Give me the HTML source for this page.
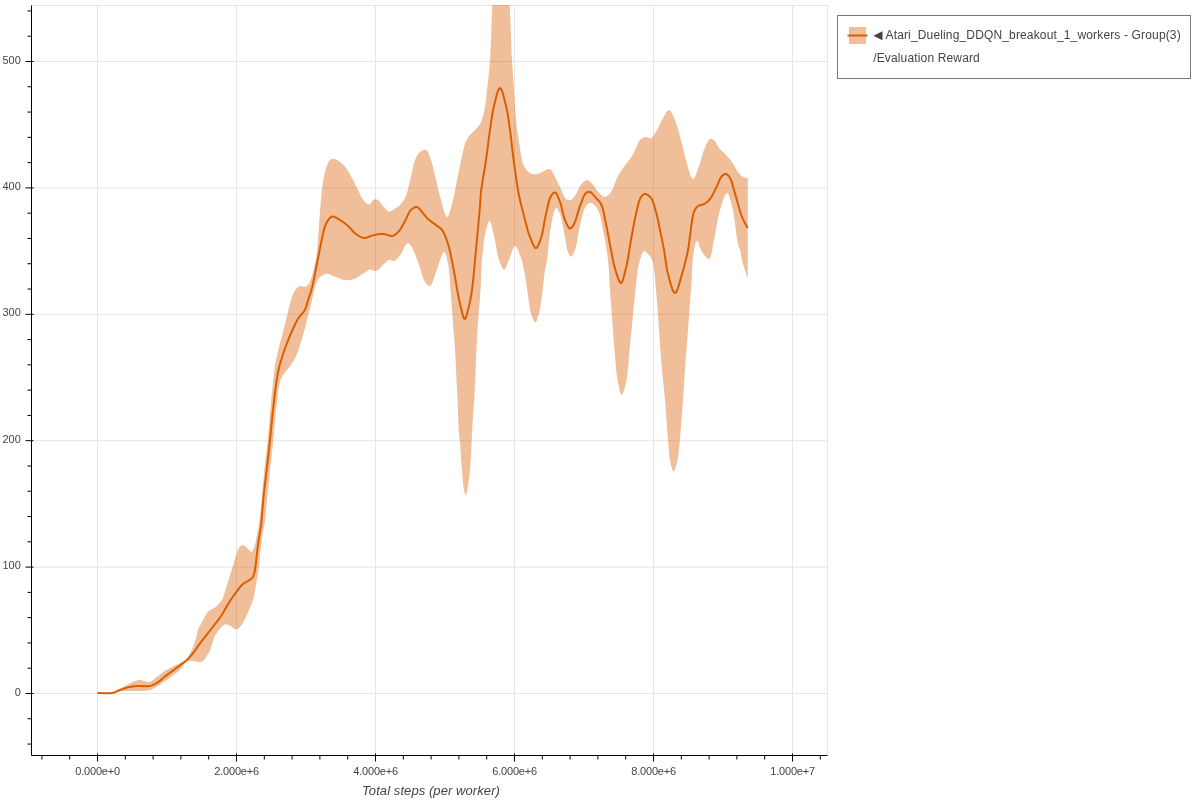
<!DOCTYPE html>
<html><head><meta charset="utf-8"><style>html,body{margin:0;padding:0;background:#fff;overflow:hidden}svg{display:block;will-change:transform}</style></head>
<body><svg width="1200" height="800" viewBox="0 0 1200 800">
<defs><clipPath id="c"><rect x="31.5" y="5" width="796.0" height="750.5"/></clipPath></defs>
<rect width="1200" height="800" fill="#fff"/>
<g stroke="#e5e5e5" stroke-width="1"><line x1="97.5" y1="5.5" x2="97.5" y2="755.5"/><line x1="236.5" y1="5.5" x2="236.5" y2="755.5"/><line x1="375.5" y1="5.5" x2="375.5" y2="755.5"/><line x1="514.5" y1="5.5" x2="514.5" y2="755.5"/><line x1="653.5" y1="5.5" x2="653.5" y2="755.5"/><line x1="792.5" y1="5.5" x2="792.5" y2="755.5"/><line x1="31.5" y1="693.5" x2="827.5" y2="693.5"/><line x1="31.5" y1="567.1" x2="827.5" y2="567.1"/><line x1="31.5" y1="440.7" x2="827.5" y2="440.7"/><line x1="31.5" y1="314.3" x2="827.5" y2="314.3"/><line x1="31.5" y1="187.89999999999998" x2="827.5" y2="187.89999999999998"/><line x1="31.5" y1="61.5" x2="827.5" y2="61.5"/></g><rect x="31.5" y="5.5" width="796.0" height="750.0" fill="none" stroke="#e5e5e5" stroke-width="1"/>
<g clip-path="url(#c)"><path d="M97.50,693.50 L99.32,693.41 L101.16,693.38 L103.00,693.37 L104.84,693.34 L106.67,693.28 L108.48,693.14 L110.26,692.89 L112.00,692.50 L113.71,691.94 L115.40,691.24 L117.06,690.43 L118.70,689.54 L120.32,688.62 L121.90,687.69 L123.47,686.81 L125.00,686.00 L126.33,685.31 L127.66,684.61 L128.98,683.89 L130.28,683.20 L131.53,682.54 L132.75,681.94 L133.91,681.42 L135.00,681.00 L135.69,680.77 L136.33,680.56 L136.94,680.38 L137.53,680.23 L138.12,680.12 L138.72,680.04 L139.34,680.00 L140.00,680.00 L140.89,680.10 L141.86,680.32 L142.88,680.63 L143.91,680.97 L144.91,681.32 L145.87,681.63 L146.74,681.87 L147.50,682.00 L147.87,682.03 L148.19,682.05 L148.49,682.06 L148.77,682.05 L149.05,682.01 L149.34,681.96 L149.65,681.87 L150.00,681.75 L150.77,681.40 L151.63,680.88 L152.55,680.25 L153.53,679.53 L154.54,678.77 L155.55,677.98 L156.54,677.21 L157.50,676.50 L158.44,675.81 L159.37,675.09 L160.30,674.36 L161.23,673.64 L162.17,672.92 L163.10,672.22 L164.05,671.54 L165.00,670.90 L165.92,670.32 L166.85,669.77 L167.79,669.24 L168.73,668.73 L169.67,668.23 L170.61,667.73 L171.56,667.24 L172.50,666.75 L173.44,666.27 L174.38,665.79 L175.33,665.32 L176.27,664.86 L177.22,664.40 L178.16,663.94 L179.08,663.47 L180.00,663.00 L180.89,662.55 L181.80,662.13 L182.72,661.71 L183.63,661.28 L184.50,660.83 L185.32,660.35 L186.08,659.83 L186.75,659.25 L187.26,658.69 L187.70,658.08 L188.09,657.45 L188.44,656.79 L188.77,656.11 L189.08,655.41 L189.41,654.71 L189.75,654.00 L190.14,653.21 L190.53,652.40 L190.91,651.58 L191.29,650.74 L191.66,649.88 L192.02,649.02 L192.39,648.14 L192.75,647.25 L193.14,646.27 L193.54,645.26 L193.93,644.25 L194.32,643.21 L194.70,642.17 L195.06,641.12 L195.42,640.06 L195.75,639.00 L196.06,637.90 L196.32,636.78 L196.57,635.65 L196.80,634.51 L197.04,633.37 L197.31,632.24 L197.63,631.11 L198.00,630.00 L198.46,628.85 L198.97,627.71 L199.52,626.57 L200.10,625.44 L200.70,624.31 L201.31,623.20 L201.91,622.09 L202.50,621.00 L203.05,619.94 L203.61,618.86 L204.18,617.77 L204.74,616.70 L205.31,615.66 L205.88,614.69 L206.44,613.79 L207.00,613.00 L207.37,612.53 L207.72,612.09 L208.07,611.70 L208.42,611.33 L208.78,610.98 L209.16,610.65 L209.56,610.32 L210.00,610.00 L210.55,609.65 L211.15,609.35 L211.78,609.07 L212.43,608.80 L213.09,608.53 L213.75,608.23 L214.39,607.89 L215.00,607.50 L215.67,606.98 L216.35,606.38 L217.03,605.73 L217.69,605.05 L218.33,604.36 L218.94,603.70 L219.50,603.07 L220.00,602.50 L220.30,602.17 L220.57,601.89 L220.82,601.63 L221.06,601.37 L221.29,601.10 L221.51,600.79 L221.75,600.43 L222.00,600.00 L222.59,598.74 L223.21,597.14 L223.85,595.28 L224.50,593.25 L225.14,591.12 L225.78,588.98 L226.40,586.92 L227.00,585.00 L227.53,583.32 L228.06,581.65 L228.57,579.99 L229.08,578.34 L229.57,576.71 L230.06,575.11 L230.53,573.54 L231.00,572.00 L231.40,570.68 L231.79,569.38 L232.17,568.11 L232.54,566.85 L232.91,565.61 L233.28,564.39 L233.64,563.19 L234.00,562.00 L234.32,560.95 L234.63,559.91 L234.93,558.88 L235.24,557.86 L235.54,556.87 L235.85,555.89 L236.17,554.93 L236.50,554.00 L236.79,553.19 L237.06,552.37 L237.34,551.56 L237.62,550.77 L237.92,550.01 L238.24,549.29 L238.60,548.62 L239.00,548.00 L239.37,547.50 L239.78,546.99 L240.21,546.50 L240.65,546.05 L241.11,545.65 L241.58,545.33 L242.04,545.11 L242.50,545.00 L242.93,545.02 L243.37,545.15 L243.82,545.37 L244.27,545.65 L244.72,545.98 L245.16,546.33 L245.59,546.67 L246.00,547.00 L246.40,547.34 L246.79,547.70 L247.17,548.10 L247.54,548.50 L247.91,548.90 L248.27,549.29 L248.63,549.66 L249.00,550.00 L249.32,550.29 L249.64,550.60 L249.96,550.92 L250.28,551.22 L250.59,551.48 L250.90,551.68 L251.21,551.79 L251.50,551.80 L251.85,551.65 L252.19,551.35 L252.52,550.94 L252.84,550.42 L253.15,549.85 L253.45,549.23 L253.73,548.61 L254.00,548.00 L254.33,547.16 L254.61,546.25 L254.87,545.28 L255.11,544.27 L255.33,543.21 L255.55,542.14 L255.77,541.07 L256.00,540.00 L256.26,538.81 L256.53,537.58 L256.79,536.34 L257.05,535.08 L257.30,533.80 L257.54,532.53 L257.78,531.26 L258.00,530.00 L258.21,528.79 L258.40,527.65 L258.59,526.52 L258.76,525.39 L258.94,524.20 L259.12,522.93 L259.30,521.54 L259.50,520.00 L259.91,516.54 L260.35,512.40 L260.83,507.79 L261.31,502.92 L261.78,497.99 L262.23,493.22 L262.64,488.82 L263.00,485.00 L263.19,482.86 L263.36,480.93 L263.50,479.14 L263.64,477.43 L263.78,475.73 L263.93,473.96 L264.10,472.08 L264.30,470.00 L264.64,466.74 L265.04,463.22 L265.48,459.50 L265.94,455.64 L266.40,451.70 L266.86,447.74 L267.30,443.82 L267.70,440.00 L268.06,436.25 L268.40,432.50 L268.72,428.75 L269.02,425.00 L269.33,421.25 L269.64,417.50 L269.96,413.75 L270.30,410.00 L270.65,406.21 L271.01,402.36 L271.38,398.48 L271.75,394.62 L272.13,390.80 L272.52,387.07 L272.91,383.46 L273.30,380.00 L273.61,377.33 L273.89,374.80 L274.16,372.37 L274.45,369.98 L274.76,367.60 L275.11,365.17 L275.52,362.65 L276.00,360.00 L276.74,356.46 L277.61,352.67 L278.59,348.72 L279.63,344.72 L280.68,340.75 L281.70,336.91 L282.66,333.30 L283.50,330.00 L284.03,327.88 L284.52,325.89 L284.98,324.00 L285.43,322.18 L285.86,320.40 L286.30,318.63 L286.74,316.84 L287.20,315.00 L287.66,313.10 L288.12,311.15 L288.58,309.20 L289.03,307.24 L289.50,305.33 L289.98,303.46 L290.48,301.68 L291.00,300.00 L291.42,298.73 L291.83,297.48 L292.25,296.27 L292.68,295.10 L293.13,293.98 L293.62,292.92 L294.13,291.93 L294.70,291.00 L295.18,290.29 L295.68,289.60 L296.20,288.94 L296.74,288.32 L297.30,287.75 L297.90,287.26 L298.53,286.83 L299.20,286.50 L299.97,286.31 L300.81,286.29 L301.72,286.38 L302.65,286.52 L303.57,286.66 L304.45,286.74 L305.27,286.71 L306.00,286.50 L306.59,286.16 L307.12,285.75 L307.61,285.26 L308.06,284.71 L308.49,284.09 L308.90,283.43 L309.30,282.73 L309.70,282.00 L310.28,280.82 L310.81,279.49 L311.31,278.04 L311.79,276.50 L312.24,274.89 L312.67,273.26 L313.09,271.62 L313.50,270.00 L313.94,268.23 L314.37,266.43 L314.77,264.61 L315.16,262.76 L315.53,260.87 L315.87,258.95 L316.20,257.00 L316.50,255.00 L316.81,252.65 L317.08,250.24 L317.31,247.78 L317.52,245.28 L317.72,242.74 L317.91,240.17 L318.10,237.59 L318.30,235.00 L318.52,232.20 L318.73,229.35 L318.94,226.47 L319.14,223.57 L319.35,220.66 L319.56,217.75 L319.77,214.86 L320.00,212.00 L320.22,209.22 L320.43,206.46 L320.64,203.71 L320.86,200.96 L321.09,198.22 L321.35,195.48 L321.65,192.74 L322.00,190.00 L322.39,187.17 L322.79,184.22 L323.23,181.24 L323.70,178.28 L324.20,175.41 L324.75,172.69 L325.35,170.20 L326.00,168.00 L326.43,166.73 L326.87,165.50 L327.32,164.32 L327.79,163.23 L328.28,162.23 L328.81,161.35 L329.38,160.60 L330.00,160.00 L330.45,159.68 L330.91,159.43 L331.40,159.23 L331.90,159.09 L332.41,159.00 L332.93,158.96 L333.46,158.96 L334.00,159.00 L334.71,159.13 L335.44,159.36 L336.20,159.68 L336.98,160.06 L337.75,160.50 L338.52,160.98 L339.27,161.49 L340.00,162.00 L340.79,162.60 L341.57,163.25 L342.34,163.94 L343.10,164.68 L343.84,165.46 L344.58,166.27 L345.29,167.12 L346.00,168.00 L346.81,169.09 L347.59,170.25 L348.35,171.47 L349.09,172.73 L349.83,174.03 L350.55,175.34 L351.28,176.67 L352.00,178.00 L352.77,179.44 L353.53,180.92 L354.27,182.43 L355.01,183.96 L355.75,185.49 L356.50,187.01 L357.24,188.52 L358.00,190.00 L358.73,191.45 L359.45,192.96 L360.17,194.48 L360.90,195.99 L361.64,197.43 L362.40,198.77 L363.18,199.97 L364.00,201.00 L364.59,201.64 L365.21,202.27 L365.84,202.86 L366.48,203.39 L367.12,203.84 L367.76,204.17 L368.39,204.36 L369.00,204.40 L369.64,204.18 L370.27,203.67 L370.89,202.97 L371.50,202.17 L372.12,201.34 L372.74,200.58 L373.36,199.97 L374.00,199.60 L374.49,199.46 L374.99,199.37 L375.49,199.35 L375.99,199.37 L376.49,199.45 L377.00,199.58 L377.50,199.77 L378.00,200.00 L378.75,200.52 L379.51,201.25 L380.26,202.14 L381.02,203.13 L381.77,204.17 L382.51,205.19 L383.26,206.16 L384.00,207.00 L384.62,207.69 L385.23,208.42 L385.82,209.16 L386.42,209.86 L387.03,210.49 L387.65,211.02 L388.31,211.40 L389.00,211.60 L389.81,211.58 L390.68,211.33 L391.60,210.91 L392.53,210.37 L393.46,209.75 L394.37,209.12 L395.22,208.52 L396.00,208.00 L396.57,207.64 L397.10,207.31 L397.61,206.97 L398.10,206.63 L398.57,206.28 L399.04,205.89 L399.52,205.47 L400.00,205.00 L400.65,204.32 L401.30,203.59 L401.95,202.80 L402.60,201.97 L403.23,201.07 L403.84,200.11 L404.44,199.09 L405.00,198.00 L405.75,196.28 L406.44,194.37 L407.08,192.31 L407.69,190.13 L408.27,187.88 L408.84,185.58 L409.41,183.27 L410.00,181.00 L410.63,178.41 L411.22,175.66 L411.78,172.83 L412.34,169.98 L412.92,167.19 L413.55,164.55 L414.23,162.13 L415.00,160.00 L415.54,158.73 L416.10,157.53 L416.66,156.39 L417.26,155.33 L417.88,154.35 L418.54,153.46 L419.24,152.68 L420.00,152.00 L420.68,151.50 L421.42,151.02 L422.21,150.59 L423.01,150.23 L423.82,149.97 L424.59,149.83 L425.33,149.83 L426.00,150.00 L426.80,150.53 L427.52,151.39 L428.17,152.52 L428.78,153.85 L429.36,155.32 L429.91,156.88 L430.45,158.46 L431.00,160.00 L431.72,162.15 L432.39,164.48 L433.03,166.96 L433.63,169.54 L434.22,172.17 L434.80,174.83 L435.39,177.45 L436.00,180.00 L436.61,182.51 L437.22,185.04 L437.81,187.58 L438.41,190.12 L439.02,192.64 L439.65,195.13 L440.30,197.59 L441.00,200.00 L441.69,202.44 L442.42,205.16 L443.17,207.98 L443.94,210.72 L444.72,213.18 L445.49,215.17 L446.26,216.51 L447.00,217.00 L447.64,216.66 L448.29,215.69 L448.94,214.23 L449.58,212.41 L450.21,210.34 L450.83,208.17 L451.43,206.01 L452.00,204.00 L452.71,201.37 L453.38,198.54 L454.01,195.56 L454.62,192.48 L455.21,189.34 L455.79,186.18 L456.39,183.05 L457.00,180.00 L457.63,176.94 L458.27,173.81 L458.91,170.63 L459.56,167.48 L460.19,164.39 L460.81,161.42 L461.42,158.60 L462.00,156.00 L462.38,154.28 L462.74,152.64 L463.08,151.07 L463.41,149.56 L463.76,148.11 L464.13,146.70 L464.54,145.34 L465.00,144.00 L465.42,142.89 L465.87,141.80 L466.33,140.74 L466.81,139.72 L467.32,138.73 L467.85,137.78 L468.41,136.87 L469.00,136.00 L469.56,135.29 L470.15,134.63 L470.77,134.03 L471.40,133.44 L472.05,132.86 L472.70,132.28 L473.35,131.66 L474.00,131.00 L474.75,130.21 L475.53,129.42 L476.33,128.61 L477.13,127.77 L477.91,126.90 L478.66,125.99 L479.36,125.03 L480.00,124.00 L480.67,122.72 L481.26,121.38 L481.80,119.97 L482.30,118.50 L482.75,116.97 L483.18,115.37 L483.59,113.72 L484.00,112.00 L484.50,109.61 L484.94,107.07 L485.33,104.41 L485.69,101.65 L486.02,98.81 L486.34,95.91 L486.66,92.96 L487.00,90.00 L487.41,86.54 L487.81,83.04 L488.21,79.49 L488.60,75.86 L488.97,72.12 L489.34,68.25 L489.68,64.22 L490.00,60.00 L490.38,53.88 L490.69,47.29 L490.97,40.35 L491.22,33.19 L491.46,25.95 L491.73,18.75 L492.03,11.72 L492.40,5.00 L492.74,-1.01 L493.06,-7.15 L493.38,-13.29 L493.73,-19.33 L494.14,-25.13 L494.64,-30.59 L495.25,-35.59 L496.00,-40.00 L496.52,-42.49 L497.10,-45.06 L497.72,-47.58 L498.37,-49.92 L499.03,-51.95 L499.70,-53.56 L500.36,-54.62 L501.00,-55.00 L501.64,-54.62 L502.30,-53.56 L502.97,-51.95 L503.63,-49.92 L504.28,-47.58 L504.90,-45.06 L505.48,-42.49 L506.00,-40.00 L506.75,-35.59 L507.36,-30.59 L507.86,-25.13 L508.27,-19.33 L508.62,-13.29 L508.94,-7.15 L509.26,-1.01 L509.60,5.00 L509.98,11.72 L510.31,18.75 L510.61,25.95 L510.88,33.19 L511.15,40.34 L511.41,47.28 L511.69,53.88 L512.00,60.00 L512.24,64.18 L512.49,68.14 L512.74,71.91 L512.99,75.57 L513.24,79.15 L513.50,82.71 L513.75,86.31 L514.00,90.00 L514.24,93.78 L514.46,97.61 L514.68,101.46 L514.90,105.30 L515.13,109.10 L515.39,112.83 L515.67,116.48 L516.00,120.00 L516.32,122.93 L516.66,125.80 L517.02,128.60 L517.41,131.36 L517.80,134.07 L518.20,136.74 L518.60,139.38 L519.00,142.00 L519.36,144.41 L519.72,146.86 L520.08,149.32 L520.45,151.73 L520.83,154.05 L521.21,156.23 L521.60,158.23 L522.00,160.00 L522.22,160.91 L522.42,161.74 L522.62,162.51 L522.82,163.22 L523.05,163.91 L523.31,164.59 L523.62,165.28 L524.00,166.00 L524.55,166.93 L525.17,167.92 L525.87,168.92 L526.62,169.91 L527.42,170.84 L528.26,171.70 L529.12,172.43 L530.00,173.00 L530.79,173.38 L531.61,173.68 L532.47,173.91 L533.34,174.06 L534.24,174.14 L535.15,174.15 L536.07,174.10 L537.00,174.00 L538.22,173.71 L539.53,173.21 L540.89,172.57 L542.26,171.86 L543.60,171.13 L544.86,170.45 L546.01,169.88 L547.00,169.50 L547.45,169.35 L547.87,169.20 L548.25,169.07 L548.62,168.95 L548.97,168.88 L549.31,168.85 L549.65,168.89 L550.00,169.00 L550.53,169.34 L551.04,169.87 L551.54,170.54 L552.03,171.34 L552.51,172.22 L552.99,173.14 L553.49,174.08 L554.00,175.00 L554.72,176.29 L555.46,177.69 L556.20,179.18 L556.96,180.72 L557.72,182.31 L558.49,183.90 L559.25,185.47 L560.00,187.00 L560.73,188.59 L561.44,190.30 L562.14,192.06 L562.84,193.80 L563.56,195.44 L564.32,196.90 L565.13,198.11 L566.00,199.00 L566.58,199.39 L567.20,199.72 L567.84,199.96 L568.49,200.13 L569.14,200.22 L569.79,200.23 L570.41,200.16 L571.00,200.00 L571.70,199.64 L572.37,199.10 L573.02,198.40 L573.66,197.59 L574.27,196.71 L574.87,195.79 L575.44,194.87 L576.00,194.00 L576.55,193.06 L577.03,192.07 L577.48,191.03 L577.91,189.97 L578.35,188.92 L578.83,187.89 L579.37,186.91 L580.00,186.00 L580.74,185.07 L581.55,184.07 L582.43,183.07 L583.35,182.12 L584.28,181.28 L585.22,180.61 L586.13,180.17 L587.00,180.00 L587.77,180.13 L588.53,180.49 L589.29,181.04 L590.04,181.73 L590.78,182.52 L591.52,183.36 L592.26,184.20 L593.00,185.00 L593.89,186.01 L594.77,187.15 L595.65,188.38 L596.52,189.65 L597.39,190.89 L598.26,192.07 L599.13,193.12 L600.00,194.00 L600.62,194.56 L601.25,195.11 L601.87,195.63 L602.49,196.10 L603.11,196.50 L603.74,196.79 L604.37,196.97 L605.00,197.00 L605.75,196.84 L606.51,196.50 L607.28,195.99 L608.05,195.35 L608.82,194.61 L609.57,193.78 L610.30,192.91 L611.00,192.00 L611.98,190.47 L612.87,188.65 L613.72,186.62 L614.53,184.46 L615.34,182.23 L616.17,180.03 L617.05,177.93 L618.00,176.00 L618.93,174.37 L619.91,172.77 L620.92,171.21 L621.96,169.69 L622.99,168.20 L624.02,166.76 L625.03,165.36 L626.00,164.00 L626.79,162.92 L627.58,161.88 L628.37,160.89 L629.15,159.92 L629.91,158.95 L630.64,157.99 L631.34,157.01 L632.00,156.00 L632.58,155.02 L633.11,154.03 L633.62,153.03 L634.10,152.03 L634.57,151.02 L635.04,150.01 L635.51,149.00 L636.00,148.00 L636.48,146.97 L636.94,145.89 L637.39,144.79 L637.85,143.70 L638.32,142.65 L638.83,141.67 L639.38,140.77 L640.00,140.00 L640.54,139.45 L641.12,138.94 L641.72,138.48 L642.35,138.06 L642.99,137.70 L643.65,137.40 L644.32,137.17 L645.00,137.00 L645.71,136.97 L646.46,137.11 L647.23,137.35 L648.02,137.64 L648.80,137.91 L649.56,138.10 L650.30,138.15 L651.00,138.00 L651.85,137.51 L652.65,136.78 L653.42,135.86 L654.17,134.79 L654.89,133.62 L655.60,132.40 L656.30,131.18 L657.00,130.00 L657.79,128.62 L658.55,127.14 L659.28,125.59 L660.00,124.00 L660.72,122.41 L661.45,120.86 L662.21,119.38 L663.00,118.00 L663.72,116.78 L664.46,115.46 L665.21,114.11 L665.98,112.83 L666.75,111.69 L667.51,110.78 L668.27,110.19 L669.00,110.00 L669.78,110.29 L670.57,111.04 L671.34,112.15 L672.11,113.53 L672.87,115.09 L673.60,116.75 L674.32,118.42 L675.00,120.00 L675.86,122.12 L676.67,124.42 L677.44,126.86 L678.17,129.40 L678.89,132.02 L679.59,134.68 L680.29,137.35 L681.00,140.00 L681.77,142.93 L682.50,145.98 L683.22,149.09 L683.94,152.23 L684.66,155.34 L685.40,158.37 L686.18,161.27 L687.00,164.00 L687.70,166.27 L688.42,168.72 L689.16,171.22 L689.91,173.60 L690.68,175.72 L691.45,177.43 L692.22,178.57 L693.00,179.00 L693.74,178.65 L694.51,177.64 L695.28,176.13 L696.06,174.25 L696.83,172.16 L697.59,169.99 L698.31,167.89 L699.00,166.00 L699.68,164.07 L700.31,162.06 L700.90,159.99 L701.47,157.91 L702.04,155.83 L702.64,153.80 L703.29,151.85 L704.00,150.00 L704.67,148.39 L705.36,146.69 L706.08,144.97 L706.83,143.32 L707.59,141.82 L708.38,140.55 L709.18,139.58 L710.00,139.00 L710.48,138.85 L710.98,138.80 L711.49,138.83 L712.01,138.95 L712.52,139.14 L713.03,139.39 L713.52,139.68 L714.00,140.00 L714.67,140.63 L715.30,141.48 L715.89,142.48 L716.47,143.58 L717.05,144.74 L717.65,145.90 L718.30,147.00 L719.00,148.00 L719.79,148.93 L720.64,149.83 L721.52,150.70 L722.43,151.56 L723.35,152.41 L724.26,153.26 L725.15,154.12 L726.00,155.00 L726.79,155.85 L727.57,156.69 L728.33,157.53 L729.09,158.37 L729.83,159.23 L730.56,160.12 L731.29,161.04 L732.00,162.00 L732.78,163.17 L733.54,164.44 L734.29,165.76 L735.02,167.11 L735.75,168.45 L736.49,169.73 L737.23,170.93 L738.00,172.00 L738.61,172.77 L739.21,173.52 L739.82,174.24 L740.43,174.91 L741.05,175.54 L741.68,176.10 L742.33,176.59 L743.00,177.00 L743.57,177.26 L744.16,177.45 L744.76,177.59 L745.36,177.68 L745.97,177.75 L746.59,177.82 L747.20,177.89 L747.80,178.00 L747.80,278.70 L747.53,277.86 L747.26,277.03 L746.99,276.20 L746.72,275.37 L746.45,274.53 L746.18,273.68 L745.89,272.80 L745.60,271.90 L745.23,270.81 L744.84,269.69 L744.44,268.55 L744.03,267.39 L743.63,266.20 L743.23,264.99 L742.85,263.76 L742.50,262.50 L742.14,261.00 L741.81,259.40 L741.50,257.75 L741.21,256.08 L740.92,254.43 L740.63,252.84 L740.32,251.35 L740.00,250.00 L739.76,249.18 L739.52,248.46 L739.28,247.82 L739.03,247.19 L738.78,246.55 L738.52,245.83 L738.26,244.99 L738.00,244.00 L737.34,240.69 L736.67,236.34 L735.99,231.27 L735.28,225.78 L734.53,220.20 L733.74,214.83 L732.90,210.00 L732.00,206.00 L731.43,203.84 L730.85,201.62 L730.25,199.45 L729.63,197.42 L729.00,195.65 L728.35,194.26 L727.68,193.34 L727.00,193.00 L726.18,193.45 L725.30,194.72 L724.38,196.63 L723.46,199.02 L722.53,201.72 L721.64,204.57 L720.79,207.38 L720.00,210.00 L719.09,213.36 L718.27,217.02 L717.51,220.89 L716.80,224.87 L716.12,228.86 L715.44,232.78 L714.74,236.52 L714.00,240.00 L713.42,242.82 L712.90,245.86 L712.39,248.94 L711.87,251.89 L711.30,254.54 L710.65,256.73 L709.90,258.27 L709.00,259.00 L708.25,258.96 L707.40,258.51 L706.48,257.74 L705.53,256.74 L704.58,255.58 L703.65,254.35 L702.78,253.13 L702.00,252.00 L701.23,250.64 L700.51,248.97 L699.84,247.14 L699.21,245.31 L698.62,243.63 L698.06,242.25 L697.52,241.32 L697.00,241.00 L696.55,241.24 L696.13,241.85 L695.73,242.78 L695.35,243.97 L694.99,245.35 L694.65,246.86 L694.32,248.43 L694.00,250.00 L693.42,253.62 L692.95,257.97 L692.56,262.88 L692.23,268.19 L691.94,273.73 L691.65,279.32 L691.35,284.80 L691.00,290.00 L690.62,295.00 L690.25,300.00 L689.87,305.00 L689.50,310.00 L689.12,315.00 L688.75,320.00 L688.38,325.00 L688.00,330.00 L687.62,335.04 L687.23,340.13 L686.84,345.25 L686.45,350.36 L686.07,355.42 L685.70,360.40 L685.34,365.27 L685.00,370.00 L684.72,374.00 L684.46,377.94 L684.20,381.83 L683.95,385.65 L683.71,389.38 L683.47,393.03 L683.24,396.57 L683.00,400.00 L682.81,402.69 L682.62,405.28 L682.44,407.80 L682.25,410.25 L682.07,412.68 L681.89,415.10 L681.70,417.53 L681.50,420.00 L681.30,422.50 L681.10,425.00 L680.90,427.50 L680.70,430.00 L680.49,432.50 L680.27,435.00 L680.04,437.50 L679.80,440.00 L679.56,442.54 L679.34,445.14 L679.12,447.76 L678.89,450.37 L678.62,452.93 L678.31,455.41 L677.94,457.78 L677.50,460.00 L677.09,461.77 L676.62,463.67 L676.12,465.59 L675.59,467.42 L675.05,469.04 L674.51,470.34 L673.99,471.19 L673.50,471.50 L673.03,471.18 L672.55,470.31 L672.08,469.01 L671.61,467.39 L671.17,465.57 L670.74,463.65 L670.35,461.76 L670.00,460.00 L669.61,457.78 L669.29,455.41 L669.02,452.92 L668.79,450.36 L668.59,447.76 L668.40,445.14 L668.21,442.54 L668.00,440.00 L667.79,437.50 L667.59,435.00 L667.40,432.50 L667.22,430.00 L667.04,427.50 L666.86,425.00 L666.68,422.50 L666.50,420.00 L666.32,417.53 L666.14,415.09 L665.97,412.68 L665.80,410.25 L665.62,407.79 L665.43,405.28 L665.23,402.69 L665.00,400.00 L664.68,396.57 L664.33,393.03 L663.95,389.38 L663.56,385.65 L663.15,381.83 L662.75,377.95 L662.37,374.00 L662.00,370.00 L661.60,365.28 L661.22,360.41 L660.84,355.42 L660.47,350.36 L660.10,345.25 L659.74,340.14 L659.37,335.04 L659.00,330.00 L658.64,324.96 L658.29,319.86 L657.95,314.74 L657.61,309.63 L657.25,304.57 L656.87,299.59 L656.46,294.72 L656.00,290.00 L655.60,285.88 L655.22,281.63 L654.84,277.38 L654.43,273.24 L653.97,269.31 L653.43,265.72 L652.78,262.58 L652.00,260.00 L651.57,258.96 L651.12,258.04 L650.64,257.22 L650.14,256.48 L649.62,255.81 L649.09,255.18 L648.55,254.59 L648.00,254.00 L647.52,253.48 L647.03,252.93 L646.51,252.39 L645.99,251.88 L645.47,251.45 L644.96,251.14 L644.47,250.98 L644.00,251.00 L643.26,251.51 L642.55,252.55 L641.88,254.01 L641.24,255.78 L640.63,257.77 L640.06,259.87 L639.51,261.98 L639.00,264.00 L638.37,266.79 L637.84,269.79 L637.37,272.97 L636.96,276.29 L636.59,279.69 L636.24,283.14 L635.88,286.59 L635.50,290.00 L635.09,293.64 L634.70,297.35 L634.32,301.09 L633.95,304.86 L633.59,308.65 L633.23,312.45 L632.87,316.23 L632.50,320.00 L632.12,323.75 L631.75,327.50 L631.38,331.25 L631.00,335.00 L630.62,338.75 L630.25,342.50 L629.87,346.25 L629.50,350.00 L629.15,353.82 L628.85,357.75 L628.56,361.72 L628.26,365.67 L627.93,369.54 L627.55,373.25 L627.08,376.76 L626.50,380.00 L626.00,382.35 L625.44,384.85 L624.84,387.36 L624.20,389.74 L623.55,391.83 L622.91,393.50 L622.29,394.61 L621.70,395.00 L621.14,394.59 L620.57,393.48 L620.01,391.80 L619.46,389.71 L618.92,387.34 L618.42,384.84 L617.94,382.34 L617.50,380.00 L616.96,376.76 L616.50,373.25 L616.10,369.53 L615.75,365.67 L615.43,361.72 L615.12,357.75 L614.82,353.82 L614.50,350.00 L614.18,346.25 L613.87,342.50 L613.58,338.75 L613.30,335.00 L613.02,331.25 L612.75,327.50 L612.48,323.75 L612.20,320.00 L611.92,316.25 L611.64,312.50 L611.36,308.75 L611.08,305.00 L610.81,301.25 L610.53,297.50 L610.26,293.75 L610.00,290.00 L609.76,286.25 L609.56,282.50 L609.37,278.74 L609.17,274.99 L608.96,271.24 L608.70,267.49 L608.39,263.74 L608.00,260.00 L607.53,256.20 L606.99,252.34 L606.40,248.46 L605.76,244.60 L605.09,240.78 L604.40,237.06 L603.70,233.45 L603.00,230.00 L602.45,227.22 L601.95,224.43 L601.45,221.68 L600.93,219.00 L600.35,216.46 L599.69,214.08 L598.92,211.91 L598.00,210.00 L597.26,208.77 L596.44,207.57 L595.56,206.42 L594.65,205.38 L593.71,204.47 L592.78,203.75 L591.87,203.25 L591.00,203.00 L590.35,202.99 L589.70,203.12 L589.05,203.37 L588.40,203.73 L587.77,204.18 L587.16,204.72 L586.56,205.33 L586.00,206.00 L585.04,207.52 L584.17,209.45 L583.38,211.72 L582.64,214.23 L581.96,216.89 L581.30,219.64 L580.65,222.37 L580.00,225.00 L579.30,228.06 L578.69,231.39 L578.12,234.85 L577.57,238.33 L577.01,241.70 L576.42,244.86 L575.75,247.66 L575.00,250.00 L574.54,251.14 L574.05,252.28 L573.54,253.37 L573.03,254.37 L572.50,255.23 L571.99,255.90 L571.48,256.34 L571.00,256.50 L570.60,256.40 L570.21,256.11 L569.82,255.65 L569.44,255.07 L569.06,254.38 L568.70,253.62 L568.34,252.81 L568.00,252.00 L567.39,250.20 L566.84,248.02 L566.33,245.54 L565.86,242.86 L565.41,240.07 L564.96,237.27 L564.49,234.55 L564.00,232.00 L563.53,229.63 L563.08,227.19 L562.64,224.72 L562.20,222.29 L561.72,219.95 L561.21,217.75 L560.64,215.75 L560.00,214.00 L559.55,212.97 L559.07,211.91 L558.55,210.88 L558.03,209.92 L557.50,209.11 L556.98,208.48 L556.48,208.09 L556.00,208.00 L555.28,208.57 L554.59,209.94 L553.93,211.94 L553.29,214.43 L552.69,217.24 L552.10,220.21 L551.54,223.18 L551.00,226.00 L550.28,230.29 L549.63,235.26 L549.04,240.64 L548.49,246.16 L547.97,251.53 L547.47,256.48 L546.99,260.73 L546.50,264.00 L546.30,264.98 L546.11,265.78 L545.92,266.47 L545.73,267.09 L545.55,267.70 L545.36,268.35 L545.18,269.10 L545.00,270.00 L544.67,272.08 L544.35,274.53 L544.04,277.24 L543.74,280.14 L543.43,283.15 L543.11,286.19 L542.77,289.17 L542.40,292.00 L542.02,294.79 L541.64,297.67 L541.25,300.59 L540.85,303.49 L540.41,306.31 L539.95,308.98 L539.45,311.47 L538.90,313.70 L538.51,315.12 L538.11,316.61 L537.69,318.07 L537.26,319.45 L536.81,320.65 L536.35,321.62 L535.88,322.26 L535.40,322.50 L534.88,322.29 L534.32,321.67 L533.74,320.72 L533.15,319.51 L532.57,318.12 L532.00,316.64 L531.48,315.14 L531.00,313.70 L530.39,311.48 L529.87,309.00 L529.42,306.32 L529.02,303.50 L528.65,300.60 L528.29,297.68 L527.91,294.79 L527.50,292.00 L527.07,289.21 L526.64,286.35 L526.21,283.46 L525.79,280.59 L525.36,277.76 L524.92,275.03 L524.47,272.43 L524.00,270.00 L523.66,268.32 L523.34,266.73 L523.02,265.20 L522.69,263.74 L522.34,262.30 L521.95,260.88 L521.51,259.45 L521.00,258.00 L520.39,256.31 L519.70,254.39 L518.95,252.39 L518.16,250.45 L517.35,248.69 L516.54,247.28 L515.75,246.33 L515.00,246.00 L514.23,246.45 L513.47,247.62 L512.72,249.35 L511.97,251.45 L511.23,253.74 L510.49,256.05 L509.74,258.20 L509.00,260.00 L508.37,261.43 L507.75,262.99 L507.12,264.59 L506.50,266.13 L505.87,267.49 L505.25,268.60 L504.62,269.33 L504.00,269.60 L503.37,269.35 L502.72,268.67 L502.07,267.63 L501.42,266.32 L500.78,264.81 L500.16,263.21 L499.56,261.57 L499.00,260.00 L498.23,257.51 L497.55,254.67 L496.93,251.59 L496.35,248.35 L495.78,245.08 L495.22,241.86 L494.63,238.80 L494.00,236.00 L493.47,233.75 L492.93,231.30 L492.38,228.80 L491.83,226.42 L491.28,224.30 L490.72,222.58 L490.16,221.43 L489.60,221.00 L489.15,221.21 L488.69,221.83 L488.22,222.78 L487.75,223.99 L487.28,225.40 L486.83,226.91 L486.40,228.47 L486.00,230.00 L485.34,232.89 L484.73,236.23 L484.17,239.93 L483.66,243.87 L483.18,247.95 L482.75,252.07 L482.36,256.12 L482.00,260.00 L481.70,263.72 L481.47,267.39 L481.30,271.05 L481.16,274.73 L481.03,278.43 L480.89,282.20 L480.72,286.04 L480.50,290.00 L480.18,294.77 L479.81,299.73 L479.41,304.83 L479.00,310.00 L478.59,315.17 L478.19,320.27 L477.82,325.23 L477.50,330.00 L477.26,333.94 L477.05,337.75 L476.86,341.46 L476.68,345.12 L476.51,348.77 L476.34,352.44 L476.18,356.17 L476.00,360.00 L475.81,364.35 L475.62,368.90 L475.43,373.57 L475.24,378.25 L475.06,382.83 L474.87,387.21 L474.69,391.31 L474.50,395.00 L474.38,397.16 L474.25,399.14 L474.13,400.99 L474.01,402.76 L473.88,404.49 L473.76,406.25 L473.63,408.06 L473.50,410.00 L473.34,412.33 L473.18,414.70 L473.02,417.11 L472.86,419.57 L472.69,422.08 L472.52,424.65 L472.36,427.29 L472.20,430.00 L472.02,433.49 L471.84,437.18 L471.68,441.00 L471.51,444.89 L471.34,448.80 L471.15,452.66 L470.94,456.42 L470.70,460.00 L470.48,463.02 L470.25,466.01 L470.01,468.97 L469.75,471.87 L469.48,474.70 L469.18,477.42 L468.86,480.03 L468.50,482.50 L468.21,484.41 L467.89,486.47 L467.56,488.55 L467.21,490.53 L466.86,492.28 L466.50,493.70 L466.15,494.64 L465.80,495.00 L465.57,494.89 L465.34,494.56 L465.11,494.04 L464.87,493.38 L464.64,492.61 L464.42,491.76 L464.20,490.88 L464.00,490.00 L463.62,487.97 L463.27,485.53 L462.96,482.77 L462.68,479.78 L462.42,476.66 L462.17,473.51 L461.94,470.43 L461.70,467.50 L461.48,464.66 L461.28,461.77 L461.10,458.86 L460.92,455.97 L460.75,453.10 L460.58,450.30 L460.40,447.59 L460.20,445.00 L460.02,442.99 L459.82,441.09 L459.62,439.25 L459.41,437.45 L459.21,435.65 L459.02,433.83 L458.85,431.96 L458.70,430.00 L458.56,427.67 L458.46,425.30 L458.38,422.89 L458.31,420.43 L458.25,417.92 L458.18,415.35 L458.10,412.71 L458.00,410.00 L457.85,406.54 L457.67,402.93 L457.49,399.19 L457.29,395.38 L457.09,391.52 L456.89,387.64 L456.69,383.79 L456.50,380.00 L456.32,376.25 L456.14,372.50 L455.97,368.75 L455.80,365.00 L455.62,361.25 L455.43,357.50 L455.23,353.75 L455.00,350.00 L454.75,346.25 L454.48,342.50 L454.19,338.75 L453.89,335.00 L453.59,331.25 L453.29,327.50 L452.99,323.75 L452.70,320.00 L452.42,316.24 L452.15,312.45 L451.89,308.65 L451.63,304.86 L451.36,301.09 L451.08,297.35 L450.80,293.65 L450.50,290.00 L450.23,286.59 L450.00,283.13 L449.76,279.66 L449.52,276.24 L449.24,272.91 L448.90,269.73 L448.50,266.74 L448.00,264.00 L447.60,262.10 L447.17,260.09 L446.72,258.09 L446.23,256.21 L445.72,254.54 L445.17,253.22 L444.60,252.33 L444.00,252.00 L443.14,252.59 L442.20,254.25 L441.19,256.70 L440.14,259.70 L439.07,262.99 L438.01,266.31 L436.98,269.40 L436.00,272.00 L435.23,274.04 L434.50,276.25 L433.79,278.51 L433.09,280.69 L432.37,282.66 L431.63,284.28 L430.84,285.44 L430.00,286.00 L429.41,286.02 L428.78,285.82 L428.13,285.43 L427.47,284.90 L426.81,284.25 L426.17,283.53 L425.57,282.77 L425.00,282.00 L424.23,280.71 L423.54,279.19 L422.92,277.49 L422.34,275.65 L421.78,273.73 L421.22,271.79 L420.63,269.86 L420.00,268.00 L419.29,266.01 L418.59,263.95 L417.87,261.85 L417.15,259.74 L416.40,257.66 L415.64,255.66 L414.84,253.76 L414.00,252.00 L413.31,250.59 L412.59,249.09 L411.86,247.59 L411.12,246.16 L410.35,244.90 L409.58,243.90 L408.79,243.24 L408.00,243.00 L407.05,243.41 L406.08,244.51 L405.08,246.12 L404.07,248.06 L403.05,250.15 L402.03,252.20 L401.01,254.05 L400.00,255.50 L399.26,256.39 L398.51,257.28 L397.77,258.13 L397.03,258.92 L396.28,259.63 L395.53,260.23 L394.77,260.70 L394.00,261.00 L393.39,261.07 L392.77,260.97 L392.15,260.77 L391.52,260.50 L390.90,260.24 L390.27,260.03 L389.63,259.93 L389.00,260.00 L388.14,260.35 L387.26,260.92 L386.38,261.66 L385.49,262.51 L384.60,263.42 L383.72,264.34 L382.85,265.22 L382.00,266.00 L381.24,266.70 L380.49,267.45 L379.75,268.22 L379.02,268.97 L378.29,269.66 L377.55,270.25 L376.79,270.71 L376.00,271.00 L375.28,271.06 L374.54,270.93 L373.78,270.68 L373.02,270.36 L372.25,270.04 L371.49,269.76 L370.74,269.60 L370.00,269.60 L369.24,269.78 L368.51,270.07 L367.79,270.46 L367.07,270.92 L366.34,271.43 L365.59,271.96 L364.82,272.49 L364.00,273.00 L362.87,273.70 L361.69,274.49 L360.47,275.34 L359.21,276.21 L357.92,277.05 L356.61,277.82 L355.31,278.48 L354.00,279.00 L352.77,279.37 L351.52,279.66 L350.24,279.89 L348.96,280.05 L347.68,280.14 L346.42,280.16 L345.19,280.12 L344.00,280.00 L342.92,279.79 L341.83,279.48 L340.75,279.08 L339.69,278.63 L338.67,278.17 L337.70,277.72 L336.81,277.32 L336.00,277.00 L335.56,276.85 L335.17,276.72 L334.82,276.60 L334.47,276.49 L334.14,276.38 L333.79,276.27 L333.41,276.14 L333.00,276.00 L332.35,275.73 L331.65,275.37 L330.92,274.98 L330.16,274.59 L329.38,274.22 L328.58,273.93 L327.79,273.74 L327.00,273.70 L326.07,273.82 L325.09,274.08 L324.07,274.46 L323.06,274.94 L322.07,275.50 L321.13,276.13 L320.27,276.80 L319.50,277.50 L318.84,278.24 L318.27,279.04 L317.76,279.91 L317.31,280.83 L316.90,281.80 L316.50,282.83 L316.11,283.89 L315.70,285.00 L315.16,286.61 L314.66,288.36 L314.19,290.22 L313.75,292.15 L313.32,294.13 L312.89,296.12 L312.46,298.09 L312.00,300.00 L311.53,301.88 L311.05,303.75 L310.58,305.63 L310.10,307.50 L309.62,309.37 L309.15,311.25 L308.67,313.12 L308.20,315.00 L307.74,316.88 L307.29,318.75 L306.84,320.63 L306.39,322.51 L305.94,324.38 L305.48,326.26 L305.00,328.13 L304.50,330.00 L303.96,331.93 L303.37,333.95 L302.76,335.99 L302.15,338.01 L301.55,339.97 L300.97,341.82 L300.45,343.51 L300.00,345.00 L299.78,345.74 L299.59,346.41 L299.43,347.01 L299.27,347.58 L299.11,348.15 L298.93,348.72 L298.73,349.33 L298.50,350.00 L298.13,351.02 L297.71,352.12 L297.25,353.28 L296.76,354.47 L296.26,355.67 L295.74,356.84 L295.22,357.96 L294.70,359.00 L294.27,359.82 L293.84,360.60 L293.40,361.34 L292.96,362.07 L292.50,362.79 L292.03,363.51 L291.53,364.24 L291.00,365.00 L290.33,365.91 L289.60,366.83 L288.82,367.76 L288.03,368.69 L287.23,369.64 L286.45,370.59 L285.70,371.54 L285.00,372.50 L284.37,373.38 L283.76,374.21 L283.16,375.02 L282.58,375.85 L282.03,376.73 L281.49,377.69 L280.98,378.77 L280.50,380.00 L279.68,382.75 L278.98,386.03 L278.36,389.72 L277.82,393.69 L277.33,397.83 L276.88,402.00 L276.44,406.10 L276.00,410.00 L275.58,413.75 L275.21,417.49 L274.88,421.24 L274.58,425.00 L274.28,428.75 L273.98,432.50 L273.65,436.25 L273.30,440.00 L272.91,443.75 L272.51,447.50 L272.09,451.25 L271.67,455.00 L271.24,458.75 L270.82,462.50 L270.40,466.25 L270.00,470.00 L269.61,473.79 L269.21,477.64 L268.83,481.52 L268.44,485.38 L268.07,489.19 L267.70,492.93 L267.34,496.54 L267.00,500.00 L266.74,502.71 L266.49,505.35 L266.26,507.93 L266.03,510.44 L265.80,512.89 L265.56,515.30 L265.29,517.67 L265.00,520.00 L264.72,521.98 L264.41,523.91 L264.09,525.79 L263.76,527.64 L263.43,529.47 L263.11,531.30 L262.79,533.14 L262.50,535.00 L262.22,536.86 L261.96,538.70 L261.70,540.53 L261.45,542.36 L261.21,544.21 L260.97,546.10 L260.73,548.02 L260.50,550.00 L260.24,552.38 L260.00,554.86 L259.77,557.42 L259.54,560.00 L259.30,562.59 L259.06,565.14 L258.79,567.62 L258.50,570.00 L258.22,571.98 L257.94,573.91 L257.64,575.79 L257.32,577.64 L257.00,579.48 L256.68,581.31 L256.34,583.14 L256.00,585.00 L255.66,586.91 L255.32,588.88 L254.97,590.87 L254.61,592.84 L254.24,594.77 L253.85,596.63 L253.44,598.38 L253.00,600.00 L252.66,601.06 L252.32,602.04 L251.97,602.95 L251.60,603.83 L251.22,604.70 L250.83,605.58 L250.42,606.51 L250.00,607.50 L249.45,608.84 L248.87,610.26 L248.26,611.74 L247.64,613.25 L247.00,614.76 L246.34,616.24 L245.67,617.66 L245.00,619.00 L244.41,620.12 L243.81,621.26 L243.21,622.37 L242.59,623.45 L241.96,624.48 L241.32,625.42 L240.67,626.27 L240.00,627.00 L239.52,627.46 L239.05,627.90 L238.56,628.31 L238.07,628.67 L237.57,628.98 L237.06,629.21 L236.54,629.35 L236.00,629.40 L235.31,629.26 L234.58,628.91 L233.83,628.41 L233.07,627.81 L232.29,627.16 L231.52,626.54 L230.75,626.00 L230.00,625.60 L229.37,625.33 L228.73,625.06 L228.09,624.81 L227.46,624.59 L226.83,624.42 L226.21,624.32 L225.60,624.31 L225.00,624.40 L224.34,624.64 L223.68,625.02 L223.05,625.51 L222.42,626.08 L221.80,626.72 L221.19,627.39 L220.59,628.08 L220.00,628.75 L219.33,629.52 L218.67,630.32 L218.02,631.16 L217.38,632.03 L216.76,632.95 L216.16,633.91 L215.57,634.93 L215.00,636.00 L214.29,637.57 L213.62,639.35 L212.98,641.27 L212.37,643.24 L211.77,645.20 L211.19,647.07 L210.60,648.78 L210.00,650.25 L209.62,651.05 L209.25,651.78 L208.87,652.45 L208.50,653.09 L208.13,653.70 L207.76,654.29 L207.38,654.89 L207.00,655.50 L206.64,656.10 L206.29,656.71 L205.94,657.31 L205.59,657.91 L205.22,658.49 L204.84,659.03 L204.44,659.54 L204.00,660.00 L203.58,660.38 L203.14,660.76 L202.68,661.11 L202.20,661.43 L201.72,661.71 L201.23,661.95 L200.74,662.13 L200.25,662.25 L199.80,662.29 L199.34,662.25 L198.89,662.17 L198.43,662.04 L197.96,661.89 L197.49,661.74 L197.00,661.61 L196.50,661.50 L195.88,661.39 L195.24,661.26 L194.58,661.14 L193.91,661.01 L193.23,660.91 L192.55,660.82 L191.89,660.77 L191.25,660.75 L190.67,660.75 L190.10,660.75 L189.53,660.77 L188.97,660.81 L188.42,660.89 L187.86,661.02 L187.31,661.22 L186.75,661.50 L185.91,662.13 L185.08,663.01 L184.26,664.05 L183.44,665.21 L182.61,666.42 L181.77,667.63 L180.90,668.75 L180.00,669.75 L179.11,670.59 L178.20,671.39 L177.27,672.16 L176.33,672.90 L175.37,673.62 L174.41,674.34 L173.45,675.04 L172.50,675.75 L171.57,676.43 L170.64,677.10 L169.70,677.76 L168.76,678.41 L167.82,679.06 L166.88,679.70 L165.94,680.35 L165.00,681.00 L164.06,681.67 L163.13,682.34 L162.20,683.03 L161.27,683.71 L160.34,684.38 L159.40,685.03 L158.45,685.66 L157.50,686.25 L156.59,686.80 L155.68,687.34 L154.78,687.87 L153.87,688.37 L152.94,688.85 L151.99,689.28 L151.01,689.67 L150.00,690.00 L148.85,690.29 L147.68,690.50 L146.48,690.65 L145.25,690.76 L143.98,690.83 L142.69,690.89 L141.36,690.94 L140.00,691.00 L138.30,691.05 L136.57,691.06 L134.80,691.03 L132.97,690.99 L131.09,690.94 L129.14,690.92 L127.11,690.93 L125.00,691.00 L121.96,691.17 L118.70,691.42 L115.29,691.73 L111.76,692.07 L108.17,692.44 L104.57,692.81 L100.99,693.17 L97.50,693.50 Z" fill="#d95f02" fill-opacity="0.4" stroke="none"/><path d="M97.50,693.00 L99.34,693.03 L101.23,693.10 L103.14,693.19 L105.04,693.28 L106.90,693.32 L108.70,693.31 L110.41,693.21 L112.00,693.00 L113.13,692.75 L114.20,692.42 L115.21,692.05 L116.18,691.64 L117.13,691.21 L118.08,690.78 L119.03,690.37 L120.00,690.00 L120.95,689.66 L121.89,689.32 L122.82,688.98 L123.75,688.65 L124.69,688.33 L125.62,688.03 L126.56,687.75 L127.50,687.50 L128.44,687.27 L129.40,687.07 L130.37,686.88 L131.33,686.71 L132.29,686.55 L133.23,686.42 L134.13,686.30 L135.00,686.20 L135.67,686.14 L136.31,686.09 L136.93,686.05 L137.53,686.03 L138.13,686.01 L138.74,686.01 L139.36,686.00 L140.00,686.00 L140.73,686.01 L141.49,686.03 L142.26,686.07 L143.04,686.11 L143.82,686.15 L144.57,686.18 L145.30,686.20 L146.00,686.20 L146.53,686.19 L147.03,686.19 L147.51,686.19 L147.99,686.18 L148.46,686.16 L148.95,686.10 L149.46,686.02 L150.00,685.90 L150.84,685.66 L151.74,685.34 L152.68,684.97 L153.65,684.55 L154.64,684.08 L155.61,683.58 L156.57,683.05 L157.50,682.50 L158.47,681.86 L159.42,681.16 L160.35,680.41 L161.28,679.63 L162.21,678.83 L163.13,678.03 L164.06,677.25 L165.00,676.50 L165.93,675.78 L166.87,675.08 L167.81,674.38 L168.74,673.68 L169.68,672.99 L170.62,672.30 L171.56,671.60 L172.50,670.90 L173.44,670.19 L174.39,669.49 L175.33,668.78 L176.28,668.07 L177.22,667.36 L178.16,666.65 L179.08,665.95 L180.00,665.25 L180.87,664.60 L181.73,663.96 L182.58,663.34 L183.43,662.72 L184.27,662.08 L185.11,661.42 L185.93,660.73 L186.75,660.00 L187.62,659.16 L188.48,658.30 L189.33,657.40 L190.17,656.47 L191.00,655.52 L191.83,654.54 L192.67,653.53 L193.50,652.50 L194.44,651.29 L195.37,650.02 L196.30,648.71 L197.22,647.37 L198.15,646.02 L199.09,644.66 L200.03,643.32 L201.00,642.00 L201.99,640.69 L202.99,639.40 L204.00,638.12 L205.02,636.84 L206.05,635.54 L207.10,634.23 L208.17,632.89 L209.25,631.50 L210.54,629.86 L211.87,628.19 L213.23,626.48 L214.61,624.74 L215.99,622.97 L217.36,621.17 L218.70,619.35 L220.00,617.50 L221.32,615.50 L222.62,613.41 L223.90,611.26 L225.16,609.10 L226.40,606.95 L227.62,604.86 L228.82,602.87 L230.00,601.00 L230.92,599.60 L231.81,598.26 L232.69,596.96 L233.56,595.70 L234.42,594.48 L235.28,593.29 L236.14,592.13 L237.00,591.00 L237.75,590.03 L238.50,589.06 L239.24,588.10 L239.98,587.18 L240.73,586.29 L241.48,585.46 L242.24,584.69 L243.00,584.00 L243.62,583.52 L244.25,583.10 L244.89,582.72 L245.53,582.37 L246.17,582.04 L246.79,581.71 L247.41,581.37 L248.00,581.00 L248.54,580.64 L249.09,580.29 L249.63,579.95 L250.16,579.59 L250.67,579.23 L251.15,578.84 L251.60,578.44 L252.00,578.00 L252.34,577.57 L252.64,577.12 L252.91,576.65 L253.16,576.17 L253.38,575.67 L253.59,575.14 L253.80,574.59 L254.00,574.00 L254.26,573.16 L254.48,572.26 L254.68,571.31 L254.85,570.31 L255.02,569.28 L255.18,568.21 L255.34,567.12 L255.50,566.00 L255.71,564.53 L255.90,563.00 L256.08,561.40 L256.26,559.76 L256.43,558.08 L256.61,556.39 L256.80,554.69 L257.00,553.00 L257.23,551.16 L257.47,549.28 L257.71,547.38 L257.96,545.46 L258.21,543.55 L258.47,541.65 L258.74,539.80 L259.00,538.00 L259.25,536.43 L259.51,534.89 L259.78,533.38 L260.05,531.89 L260.31,530.41 L260.56,528.94 L260.80,527.47 L261.00,526.00 L261.17,524.63 L261.30,523.31 L261.43,522.02 L261.53,520.72 L261.64,519.39 L261.75,518.01 L261.87,516.56 L262.00,515.00 L262.21,512.57 L262.44,509.93 L262.67,507.14 L262.91,504.25 L263.17,501.28 L263.44,498.31 L263.71,495.37 L264.00,492.50 L264.30,489.71 L264.62,486.95 L264.95,484.20 L265.30,481.45 L265.65,478.67 L266.00,475.85 L266.35,472.97 L266.70,470.00 L267.11,466.46 L267.52,462.80 L267.94,459.07 L268.36,455.27 L268.78,451.44 L269.19,447.60 L269.60,443.78 L270.00,440.00 L270.38,436.25 L270.75,432.50 L271.12,428.75 L271.48,425.00 L271.84,421.25 L272.21,417.50 L272.59,413.75 L273.00,410.00 L273.43,406.18 L273.86,402.25 L274.31,398.29 L274.77,394.35 L275.24,390.49 L275.72,386.77 L276.20,383.25 L276.70,380.00 L277.06,377.82 L277.44,375.69 L277.83,373.63 L278.21,371.66 L278.60,369.80 L278.98,368.05 L279.35,366.45 L279.70,365.00 L279.89,364.26 L280.07,363.61 L280.24,363.02 L280.41,362.47 L280.58,361.92 L280.77,361.35 L280.97,360.72 L281.20,360.00 L281.62,358.68 L282.07,357.21 L282.57,355.64 L283.10,353.98 L283.67,352.25 L284.26,350.50 L284.87,348.74 L285.50,347.00 L286.27,344.95 L287.10,342.82 L287.97,340.64 L288.86,338.43 L289.78,336.23 L290.70,334.07 L291.61,331.99 L292.50,330.00 L293.24,328.37 L293.97,326.76 L294.70,325.18 L295.42,323.64 L296.16,322.15 L296.92,320.71 L297.69,319.32 L298.50,318.00 L299.23,316.96 L300.00,316.00 L300.80,315.10 L301.60,314.23 L302.39,313.36 L303.15,312.47 L303.86,311.52 L304.50,310.50 L305.10,309.32 L305.62,308.10 L306.09,306.83 L306.52,305.53 L306.93,304.19 L307.34,302.82 L307.75,301.42 L308.20,300.00 L308.77,298.26 L309.35,296.45 L309.94,294.59 L310.53,292.68 L311.12,290.76 L311.68,288.83 L312.21,286.90 L312.70,285.00 L313.14,283.13 L313.55,281.26 L313.93,279.39 L314.29,277.51 L314.64,275.63 L314.98,273.75 L315.33,271.88 L315.70,270.00 L316.08,268.12 L316.45,266.25 L316.82,264.38 L317.20,262.50 L317.57,260.62 L317.95,258.75 L318.33,256.88 L318.70,255.00 L319.07,253.13 L319.42,251.26 L319.78,249.39 L320.13,247.52 L320.49,245.65 L320.87,243.78 L321.27,241.89 L321.70,240.00 L322.15,237.97 L322.59,235.86 L323.04,233.72 L323.52,231.58 L324.03,229.50 L324.61,227.51 L325.26,225.66 L326.00,224.00 L326.62,222.80 L327.28,221.60 L327.97,220.43 L328.70,219.34 L329.47,218.37 L330.27,217.57 L331.12,216.96 L332.00,216.60 L332.90,216.52 L333.86,216.68 L334.86,217.03 L335.89,217.53 L336.94,218.12 L337.98,218.76 L339.01,219.40 L340.00,220.00 L341.03,220.62 L342.05,221.29 L343.06,222.01 L344.07,222.76 L345.06,223.53 L346.05,224.34 L347.03,225.16 L348.00,226.00 L349.02,226.95 L350.01,227.97 L350.99,229.04 L351.97,230.13 L352.95,231.20 L353.94,232.22 L354.95,233.17 L356.00,234.00 L356.96,234.69 L357.93,235.36 L358.93,236.00 L359.93,236.60 L360.94,237.11 L361.96,237.53 L362.98,237.84 L364.00,238.00 L364.99,237.99 L365.98,237.81 L366.98,237.52 L367.98,237.14 L368.98,236.71 L369.99,236.29 L370.99,235.90 L372.00,235.60 L373.00,235.35 L374.02,235.09 L375.04,234.85 L376.06,234.61 L377.08,234.40 L378.07,234.23 L379.05,234.09 L380.00,234.00 L380.79,233.96 L381.56,233.96 L382.31,233.98 L383.06,234.02 L383.79,234.09 L384.53,234.18 L385.26,234.28 L386.00,234.40 L386.76,234.58 L387.51,234.84 L388.26,235.15 L389.01,235.46 L389.76,235.74 L390.51,235.95 L391.25,236.05 L392.00,236.00 L392.89,235.75 L393.79,235.35 L394.70,234.82 L395.61,234.17 L396.50,233.44 L397.37,232.66 L398.21,231.83 L399.00,231.00 L399.87,229.97 L400.68,228.82 L401.46,227.59 L402.20,226.29 L402.92,224.96 L403.62,223.62 L404.31,222.29 L405.00,221.00 L405.68,219.71 L406.34,218.33 L407.00,216.91 L407.64,215.51 L408.26,214.17 L408.87,212.94 L409.45,211.87 L410.00,211.00 L410.26,210.65 L410.49,210.35 L410.72,210.08 L410.94,209.84 L411.17,209.63 L411.41,209.42 L411.69,209.21 L412.00,209.00 L412.50,208.67 L413.08,208.30 L413.71,207.92 L414.37,207.57 L415.05,207.28 L415.73,207.06 L416.39,206.96 L417.00,207.00 L417.66,207.25 L418.30,207.68 L418.92,208.26 L419.53,208.95 L420.14,209.71 L420.75,210.49 L421.37,211.27 L422.00,212.00 L422.72,212.82 L423.44,213.68 L424.15,214.58 L424.88,215.49 L425.62,216.40 L426.38,217.30 L427.17,218.17 L428.00,219.00 L428.92,219.82 L429.90,220.60 L430.93,221.36 L431.97,222.10 L433.02,222.83 L434.05,223.56 L435.05,224.28 L436.00,225.00 L436.81,225.61 L437.60,226.17 L438.39,226.71 L439.15,227.26 L439.90,227.83 L440.62,228.46 L441.32,229.18 L442.00,230.00 L442.89,231.33 L443.73,232.84 L444.53,234.49 L445.28,236.26 L446.00,238.12 L446.68,240.05 L447.35,242.02 L448.00,244.00 L448.75,246.47 L449.44,249.05 L450.08,251.73 L450.69,254.49 L451.27,257.31 L451.85,260.18 L452.42,263.08 L453.00,266.00 L453.66,269.40 L454.32,272.98 L454.96,276.67 L455.60,280.39 L456.22,284.06 L456.83,287.60 L457.42,290.94 L458.00,294.00 L458.39,296.00 L458.75,297.89 L459.11,299.69 L459.46,301.42 L459.81,303.10 L460.18,304.75 L460.57,306.37 L461.00,308.00 L461.42,309.60 L461.86,311.37 L462.31,313.20 L462.78,314.97 L463.26,316.55 L463.75,317.83 L464.23,318.69 L464.70,319.00 L465.18,318.70 L465.66,317.87 L466.16,316.62 L466.65,315.06 L467.14,313.31 L467.61,311.47 L468.07,309.67 L468.50,308.00 L469.01,306.01 L469.50,303.94 L469.96,301.80 L470.40,299.59 L470.82,297.30 L471.23,294.94 L471.62,292.51 L472.00,290.00 L472.45,286.68 L472.85,283.25 L473.22,279.70 L473.57,276.03 L473.90,272.23 L474.25,268.30 L474.61,264.22 L475.00,260.00 L475.60,253.76 L476.27,246.79 L476.97,239.36 L477.68,231.79 L478.37,224.37 L479.01,217.40 L479.56,211.18 L480.00,206.00 L480.16,203.85 L480.28,201.99 L480.37,200.33 L480.45,198.78 L480.54,197.26 L480.65,195.68 L480.80,193.96 L481.00,192.00 L481.43,188.61 L481.98,184.89 L482.61,180.90 L483.29,176.75 L484.00,172.50 L484.71,168.23 L485.39,164.04 L486.00,160.00 L486.54,156.18 L487.05,152.36 L487.54,148.53 L488.02,144.73 L488.50,140.96 L488.99,137.24 L489.48,133.58 L490.00,130.00 L490.46,126.84 L490.90,123.72 L491.34,120.63 L491.79,117.59 L492.27,114.60 L492.78,111.67 L493.36,108.80 L494.00,106.00 L494.64,103.36 L495.34,100.45 L496.08,97.45 L496.86,94.56 L497.65,91.98 L498.45,89.90 L499.23,88.51 L500.00,88.00 L500.77,88.51 L501.55,89.90 L502.35,91.98 L503.14,94.56 L503.92,97.45 L504.66,100.45 L505.36,103.36 L506.00,106.00 L506.65,108.80 L507.23,111.67 L507.75,114.60 L508.23,117.59 L508.68,120.63 L509.12,123.72 L509.56,126.84 L510.00,130.00 L510.49,133.59 L510.95,137.26 L511.38,141.00 L511.81,144.79 L512.23,148.60 L512.67,152.42 L513.12,156.23 L513.60,160.00 L514.12,163.86 L514.67,167.88 L515.24,171.96 L515.83,176.01 L516.40,179.94 L516.97,183.64 L517.50,187.02 L518.00,190.00 L518.26,191.49 L518.50,192.83 L518.74,194.05 L518.96,195.20 L519.19,196.32 L519.44,197.47 L519.70,198.68 L520.00,200.00 L520.41,201.81 L520.86,203.69 L521.33,205.64 L521.83,207.64 L522.35,209.69 L522.88,211.77 L523.43,213.87 L524.00,216.00 L524.66,218.54 L525.34,221.23 L526.04,224.00 L526.77,226.79 L527.52,229.54 L528.31,232.20 L529.14,234.71 L530.00,237.00 L530.69,238.73 L531.43,240.57 L532.19,242.41 L532.97,244.15 L533.75,245.69 L534.52,246.91 L535.28,247.72 L536.00,248.00 L536.66,247.73 L537.33,247.01 L537.98,245.92 L538.62,244.55 L539.25,242.99 L539.86,241.32 L540.44,239.62 L541.00,238.00 L541.76,235.50 L542.43,232.69 L543.05,229.65 L543.63,226.46 L544.19,223.22 L544.76,220.00 L545.36,216.90 L546.00,214.00 L546.57,211.52 L547.13,208.96 L547.69,206.40 L548.26,203.91 L548.87,201.55 L549.51,199.40 L550.22,197.53 L551.00,196.00 L551.46,195.29 L551.94,194.60 L552.45,193.96 L552.97,193.40 L553.49,192.94 L554.01,192.60 L554.51,192.41 L555.00,192.40 L555.67,192.75 L556.33,193.50 L556.98,194.58 L557.61,195.90 L558.24,197.38 L558.84,198.95 L559.43,200.51 L560.00,202.00 L560.70,204.01 L561.32,206.24 L561.91,208.62 L562.48,211.07 L563.04,213.52 L563.64,215.87 L564.28,218.06 L565.00,220.00 L565.57,221.36 L566.17,222.77 L566.78,224.17 L567.42,225.49 L568.06,226.65 L568.71,227.59 L569.36,228.23 L570.00,228.50 L570.50,228.43 L571.00,228.16 L571.51,227.71 L572.02,227.11 L572.53,226.41 L573.03,225.64 L573.52,224.82 L574.00,224.00 L574.81,222.34 L575.58,220.32 L576.31,218.05 L577.03,215.60 L577.74,213.07 L578.46,210.57 L579.21,208.18 L580.00,206.00 L580.70,204.16 L581.40,202.24 L582.11,200.31 L582.84,198.44 L583.58,196.71 L584.35,195.17 L585.15,193.91 L586.00,193.00 L586.47,192.65 L586.96,192.36 L587.45,192.13 L587.96,191.97 L588.47,191.88 L588.98,191.85 L589.49,191.89 L590.00,192.00 L590.74,192.33 L591.50,192.88 L592.26,193.60 L593.03,194.44 L593.80,195.35 L594.55,196.28 L595.29,197.18 L596.00,198.00 L596.67,198.71 L597.34,199.37 L597.99,200.02 L598.64,200.68 L599.26,201.39 L599.87,202.16 L600.45,203.02 L601.00,204.00 L601.81,205.87 L602.53,208.04 L603.18,210.45 L603.78,213.03 L604.34,215.74 L604.88,218.51 L605.43,221.28 L606.00,224.00 L606.66,227.10 L607.29,230.30 L607.91,233.59 L608.52,236.92 L609.12,240.26 L609.74,243.58 L610.36,246.83 L611.00,250.00 L611.59,252.90 L612.17,255.82 L612.75,258.74 L613.34,261.62 L613.95,264.42 L614.59,267.11 L615.27,269.65 L616.00,272.00 L616.57,273.74 L617.18,275.58 L617.82,277.43 L618.47,279.18 L619.12,280.71 L619.76,281.93 L620.40,282.73 L621.00,283.00 L621.67,282.57 L622.33,281.44 L622.98,279.75 L623.62,277.65 L624.24,275.29 L624.84,272.79 L625.43,270.32 L626.00,268.00 L626.72,264.92 L627.38,261.61 L628.01,258.11 L628.61,254.50 L629.20,250.82 L629.78,247.14 L630.38,243.51 L631.00,240.00 L631.61,236.66 L632.21,233.30 L632.81,229.92 L633.41,226.58 L634.03,223.29 L634.66,220.07 L635.32,216.97 L636.00,214.00 L636.56,211.59 L637.11,209.13 L637.67,206.69 L638.24,204.33 L638.85,202.12 L639.50,200.12 L640.21,198.39 L641.00,197.00 L641.45,196.39 L641.91,195.82 L642.39,195.32 L642.89,194.88 L643.39,194.52 L643.91,194.25 L644.45,194.07 L645.00,194.00 L645.70,194.07 L646.46,194.31 L647.25,194.68 L648.05,195.19 L648.84,195.79 L649.61,196.47 L650.34,197.22 L651.00,198.00 L651.84,199.27 L652.58,200.77 L653.25,202.45 L653.85,204.26 L654.41,206.17 L654.94,208.13 L655.47,210.09 L656.00,212.00 L656.58,214.12 L657.12,216.30 L657.63,218.52 L658.12,220.78 L658.59,223.07 L659.05,225.37 L659.52,227.69 L660.00,230.00 L660.51,232.43 L661.02,234.88 L661.53,237.34 L662.03,239.81 L662.53,242.31 L663.03,244.84 L663.52,247.40 L664.00,250.00 L664.49,252.91 L664.94,255.92 L665.36,258.98 L665.78,262.07 L666.24,265.14 L666.74,268.18 L667.32,271.14 L668.00,274.00 L668.72,276.77 L669.53,279.83 L670.39,283.00 L671.30,286.05 L672.23,288.78 L673.18,290.99 L674.10,292.46 L675.00,293.00 L675.89,292.46 L676.78,290.98 L677.69,288.77 L678.59,286.04 L679.48,282.98 L680.35,279.82 L681.20,276.76 L682.00,274.00 L682.86,271.11 L683.72,268.08 L684.55,264.96 L685.35,261.81 L686.11,258.68 L686.81,255.63 L687.45,252.72 L688.00,250.00 L688.35,248.10 L688.63,246.34 L688.87,244.65 L689.08,243.01 L689.28,241.37 L689.49,239.68 L689.72,237.90 L690.00,236.00 L690.40,233.19 L690.79,230.06 L691.20,226.73 L691.63,223.35 L692.11,220.05 L692.66,216.97 L693.28,214.24 L694.00,212.00 L694.42,210.98 L694.85,210.06 L695.30,209.21 L695.76,208.44 L696.26,207.74 L696.80,207.10 L697.37,206.52 L698.00,206.00 L698.65,205.60 L699.36,205.31 L700.12,205.10 L700.90,204.93 L701.70,204.77 L702.49,204.58 L703.26,204.34 L704.00,204.00 L704.79,203.54 L705.58,203.03 L706.35,202.48 L707.11,201.89 L707.86,201.24 L708.59,200.55 L709.31,199.80 L710.00,199.00 L710.84,197.88 L711.63,196.63 L712.39,195.28 L713.12,193.86 L713.84,192.40 L714.56,190.91 L715.27,189.44 L716.00,188.00 L716.75,186.46 L717.49,184.79 L718.21,183.07 L718.94,181.36 L719.67,179.73 L720.42,178.25 L721.20,176.99 L722.00,176.00 L722.48,175.54 L722.98,175.12 L723.49,174.76 L724.00,174.45 L724.51,174.21 L725.02,174.05 L725.52,173.98 L726.00,174.00 L726.53,174.16 L727.06,174.46 L727.59,174.87 L728.10,175.38 L728.60,175.97 L729.09,176.62 L729.55,177.30 L730.00,178.00 L730.62,179.15 L731.17,180.47 L731.69,181.93 L732.16,183.49 L732.62,185.11 L733.07,186.76 L733.53,188.40 L734.00,190.00 L734.51,191.70 L735.02,193.43 L735.52,195.19 L736.01,196.96 L736.50,198.74 L737.00,200.51 L737.50,202.27 L738.00,204.00 L738.48,205.66 L738.95,207.32 L739.41,208.98 L739.87,210.63 L740.35,212.26 L740.86,213.87 L741.41,215.45 L742.00,217.00 L742.62,218.44 L743.28,219.84 L743.97,221.22 L744.69,222.58 L745.42,223.93 L746.16,225.28 L746.89,226.63 L747.60,228.00" fill="none" stroke="#d95f02" stroke-width="2" stroke-linejoin="round"/></g>
<g stroke="#000" stroke-width="1"><line x1="31.5" y1="5.5" x2="31.5" y2="755.5"/><line x1="31.5" y1="755.5" x2="827.5" y2="755.5"/><line x1="27.5" y1="744.06" x2="31.5" y2="744.06"/><line x1="27.5" y1="718.78" x2="31.5" y2="718.78"/><line x1="25.5" y1="693.5" x2="33.5" y2="693.5"/><line x1="27.5" y1="668.22" x2="31.5" y2="668.22"/><line x1="27.5" y1="642.94" x2="31.5" y2="642.94"/><line x1="27.5" y1="617.66" x2="31.5" y2="617.66"/><line x1="27.5" y1="592.38" x2="31.5" y2="592.38"/><line x1="25.5" y1="567.1" x2="33.5" y2="567.1"/><line x1="27.5" y1="541.8199999999999" x2="31.5" y2="541.8199999999999"/><line x1="27.5" y1="516.54" x2="31.5" y2="516.54"/><line x1="27.5" y1="491.26" x2="31.5" y2="491.26"/><line x1="27.5" y1="465.98" x2="31.5" y2="465.98"/><line x1="25.5" y1="440.7" x2="33.5" y2="440.7"/><line x1="27.5" y1="415.42" x2="31.5" y2="415.42"/><line x1="27.5" y1="390.14" x2="31.5" y2="390.14"/><line x1="27.5" y1="364.86" x2="31.5" y2="364.86"/><line x1="27.5" y1="339.58" x2="31.5" y2="339.58"/><line x1="25.5" y1="314.3" x2="33.5" y2="314.3"/><line x1="27.5" y1="289.02" x2="31.5" y2="289.02"/><line x1="27.5" y1="263.74" x2="31.5" y2="263.74"/><line x1="27.5" y1="238.45999999999998" x2="31.5" y2="238.45999999999998"/><line x1="27.5" y1="213.18" x2="31.5" y2="213.18"/><line x1="25.5" y1="187.89999999999998" x2="33.5" y2="187.89999999999998"/><line x1="27.5" y1="162.62" x2="31.5" y2="162.62"/><line x1="27.5" y1="137.34000000000003" x2="31.5" y2="137.34000000000003"/><line x1="27.5" y1="112.05999999999995" x2="31.5" y2="112.05999999999995"/><line x1="27.5" y1="86.77999999999997" x2="31.5" y2="86.77999999999997"/><line x1="25.5" y1="61.5" x2="33.5" y2="61.5"/><line x1="27.5" y1="36.22000000000003" x2="31.5" y2="36.22000000000003"/><line x1="27.5" y1="10.93999999999994" x2="31.5" y2="10.93999999999994"/><line x1="41.9" y1="755.5" x2="41.9" y2="759.5"/><line x1="69.7" y1="755.5" x2="69.7" y2="759.5"/><line x1="97.5" y1="753.5" x2="97.5" y2="761.5"/><line x1="125.3" y1="755.5" x2="125.3" y2="759.5"/><line x1="153.1" y1="755.5" x2="153.1" y2="759.5"/><line x1="180.9" y1="755.5" x2="180.9" y2="759.5"/><line x1="208.7" y1="755.5" x2="208.7" y2="759.5"/><line x1="236.5" y1="753.5" x2="236.5" y2="761.5"/><line x1="264.3" y1="755.5" x2="264.3" y2="759.5"/><line x1="292.1" y1="755.5" x2="292.1" y2="759.5"/><line x1="319.9" y1="755.5" x2="319.9" y2="759.5"/><line x1="347.70000000000005" y1="755.5" x2="347.70000000000005" y2="759.5"/><line x1="375.5" y1="753.5" x2="375.5" y2="761.5"/><line x1="403.3" y1="755.5" x2="403.3" y2="759.5"/><line x1="431.1" y1="755.5" x2="431.1" y2="759.5"/><line x1="458.90000000000003" y1="755.5" x2="458.90000000000003" y2="759.5"/><line x1="486.70000000000005" y1="755.5" x2="486.70000000000005" y2="759.5"/><line x1="514.5" y1="753.5" x2="514.5" y2="761.5"/><line x1="542.3" y1="755.5" x2="542.3" y2="759.5"/><line x1="570.1" y1="755.5" x2="570.1" y2="759.5"/><line x1="597.9000000000001" y1="755.5" x2="597.9000000000001" y2="759.5"/><line x1="625.7" y1="755.5" x2="625.7" y2="759.5"/><line x1="653.5" y1="753.5" x2="653.5" y2="761.5"/><line x1="681.3000000000001" y1="755.5" x2="681.3000000000001" y2="759.5"/><line x1="709.1" y1="755.5" x2="709.1" y2="759.5"/><line x1="736.9000000000001" y1="755.5" x2="736.9000000000001" y2="759.5"/><line x1="764.7" y1="755.5" x2="764.7" y2="759.5"/><line x1="792.5" y1="753.5" x2="792.5" y2="761.5"/><line x1="820.3000000000001" y1="755.5" x2="820.3000000000001" y2="759.5"/></g><g fill="#444" font-size="11" font-family="Liberation Sans, sans-serif"><text x="20.8" y="695.5" text-anchor="end">0</text><text x="20.8" y="569.1" text-anchor="end">100</text><text x="20.8" y="442.7" text-anchor="end">200</text><text x="20.8" y="316.3" text-anchor="end">300</text><text x="20.8" y="189.89999999999998" text-anchor="end">400</text><text x="20.8" y="63.5" text-anchor="end">500</text><text x="97.6" y="775" text-anchor="middle" letter-spacing="-0.2">0.000e+0</text><text x="236.6" y="775" text-anchor="middle" letter-spacing="-0.2">2.000e+6</text><text x="375.6" y="775" text-anchor="middle" letter-spacing="-0.2">4.000e+6</text><text x="514.6" y="775" text-anchor="middle" letter-spacing="-0.2">6.000e+6</text><text x="653.6" y="775" text-anchor="middle" letter-spacing="-0.2">8.000e+6</text><text x="792.6" y="775" text-anchor="middle" letter-spacing="-0.2">1.000e+7</text></g><text x="431" y="795" text-anchor="middle" font-size="13" letter-spacing="0.08" font-style="italic" fill="#444" font-family="Liberation Sans, sans-serif">Total steps (per worker)</text><rect x="837.5" y="15.5" width="353" height="63" fill="#fff" stroke="#777" stroke-width="1"/>
<rect x="849" y="27" width="17" height="17" fill="#d95f02" fill-opacity="0.4"/>
<line x1="847.5" y1="35.5" x2="867.5" y2="35.5" stroke="#d95f02" stroke-width="2"/>
<polygon points="873.3,35.7 882.5,31.2 882.5,40.2" fill="#444"/>
<g fill="#444" font-size="12" letter-spacing="0.15" font-family="Liberation Sans, sans-serif">
<text x="885.5" y="38.7">Atari_Dueling_DDQN_breakout_1_workers - Group(3)</text>
<text x="873.2" y="61.7">/Evaluation Reward</text></g>
</svg></body></html>
